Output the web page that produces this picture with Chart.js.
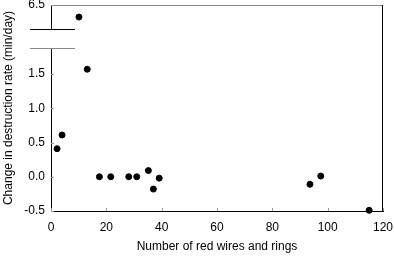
<!DOCTYPE html>
<html lang="en">
<head>
<meta charset="UTF-8">
<title>Destruction rate vs red wires</title>
<script src="https://cdn.jsdelivr.net/npm/chart.js"></script>
<style>
  html, body { margin: 0; padding: 0; background: #fff; }
  #wrap { width: 394px; height: 256px; }
</style>
</head>
<body>
<div id="wrap"><canvas id="chart" width="394" height="256"></canvas></div>
<script>
  // data
  const wires = [2.2, 4.0, 10.1, 13.1, 17.5, 21.6, 28.1, 31.0, 35.2, 37.0, 39.1, 93.6, 97.5, 115.0];
  const rateChange = [0.41, 0.61, 6.22, 1.57, 0.0, 0.0, 0.0, 0.0, 0.09, -0.18, -0.02, -0.11, 0.01, -0.49];
  const xTicks = [0, 20, 40, 60, 80, 100, 120];
  const yLowTicks = [-0.5, 0, 0.5, 1.0, 1.5];
  const yHighTicks = [6.5];
  const breakValue = 1.88;

  const font = { family: "'Liberation Sans', Arial, sans-serif", size: 12 };
  const points = wires.map((x, i) => ({ x: x, y: rateChange[i] }));
  const lowPoints = points.filter(p => p.y <= breakValue);
  const highPoints = points.filter(p => p.y > breakValue);

  // borders, axis break and inward tick marks
  const frame = {
    id: 'frame',
    afterDraw(chart) {
      const ctx = chart.ctx;
      const area = chart.chartArea;
      const low = chart.scales.y;
      const high = chart.scales.yTop;
      const x = chart.scales.x;
      const breakTop = high.bottom - 19;
      ctx.save();
      ctx.lineWidth = 1;
      // top border
      ctx.strokeStyle = '#888';
      ctx.beginPath();
      ctx.moveTo(area.left, area.top + 0.5);
      ctx.lineTo(area.right, area.top + 0.5);
      ctx.stroke();
      // right border
      ctx.strokeStyle = '#000';
      ctx.beginPath();
      ctx.moveTo(area.right - 0.5, area.top);
      ctx.lineTo(area.right - 0.5, area.bottom);
      ctx.stroke();
      // upper piece of y axis
      ctx.beginPath();
      ctx.moveTo(area.left + 0.5, area.top);
      ctx.lineTo(area.left + 0.5, breakTop);
      ctx.stroke();
      // break marks
      ctx.beginPath();
      ctx.moveTo(30, breakTop + 0.5);
      ctx.lineTo(75, breakTop + 0.5);
      ctx.stroke();
      ctx.strokeStyle = '#888';
      ctx.beginPath();
      ctx.moveTo(30, low.top + 0.5);
      ctx.lineTo(75, low.top + 0.5);
      ctx.stroke();
      // inward ticks
      ctx.strokeStyle = '#999';
      ctx.beginPath();
      [low, high].forEach(s => s.ticks.forEach(t => {
        const py = Math.round(s.getPixelForValue(t.value)) + 0.5;
        ctx.moveTo(area.left, py);
        ctx.lineTo(area.left + 3, py);
      }));
      x.ticks.forEach(t => {
        const px = Math.round(x.getPixelForValue(t.value)) + 0.5;
        ctx.moveTo(px, area.bottom);
        ctx.lineTo(px, area.bottom - 3);
      });
      ctx.stroke();
      // y axis title spanning both pieces
      ctx.fillStyle = '#000';
      ctx.font = "12px 'Liberation Sans', Arial, sans-serif";
      ctx.textAlign = 'center';
      ctx.textBaseline = 'middle';
      ctx.translate(9, (area.top + area.bottom) / 2);
      ctx.rotate(-Math.PI / 2);
      ctx.fillText('Change in destruction rate (min/day)', 0, 0);
      ctx.restore();
    }
  };

  const fitY = s => {
    s.width = 51;
    s.paddingTop = 0;
    s.paddingBottom = 0;
  };

  new Chart(document.getElementById('chart'), {
    type: 'scatter',
    data: {
      datasets: [
        { data: lowPoints, yAxisID: 'y', backgroundColor: '#000', borderColor: '#000', pointRadius: 3, clip: false },
        { data: highPoints, yAxisID: 'yTop', backgroundColor: '#000', borderColor: '#000', pointRadius: 3, clip: false }
      ]
    },
    options: {
      responsive: false,
      animation: false,
      layout: { padding: { top: 5, right: 11, left: 0, bottom: 0 } },
      plugins: { legend: { display: false }, tooltip: { enabled: false } },
      scales: {
        x: {
          type: 'linear', min: 0, max: 120,
          afterBuildTicks: s => { s.ticks = xTicks.map(v => ({ value: v })); },
          ticks: { color: '#000', font: font, padding: 9, maxRotation: 0 },
          grid: { display: false, drawTicks: false },
          border: { color: '#000' },
          title: { display: true, text: 'Number of red wires and rings', color: '#000', font: font, padding: { top: 4, bottom: 2 } },
          afterFit: s => { s.height = 45; s.paddingLeft = 0; s.paddingRight = 0; }
        },
        y: {
          type: 'linear', position: 'left', stack: 'y', stackWeight: 163,
          min: -0.5, max: breakValue,
          afterBuildTicks: s => { s.ticks = yLowTicks.map(v => ({ value: v })); },
          ticks: { color: '#000', font: font, padding: 6, callback: v => v.toFixed(1) },
          grid: { display: false, drawTicks: false },
          border: { color: '#000' },
          afterFit: fitY
        },
        yTop: {
          type: 'linear', position: 'left', stack: 'y', stackWeight: 43,
          min: 5.5, max: 6.5,
          afterBuildTicks: s => { s.ticks = yHighTicks.map(v => ({ value: v })); },
          ticks: { color: '#000', font: font, padding: 6, callback: v => v.toFixed(1) },
          grid: { display: false, drawTicks: false },
          border: { display: false },
          afterFit: fitY
        }
      }
    },
    plugins: [frame]
  });
</script>
</body>
</html>
